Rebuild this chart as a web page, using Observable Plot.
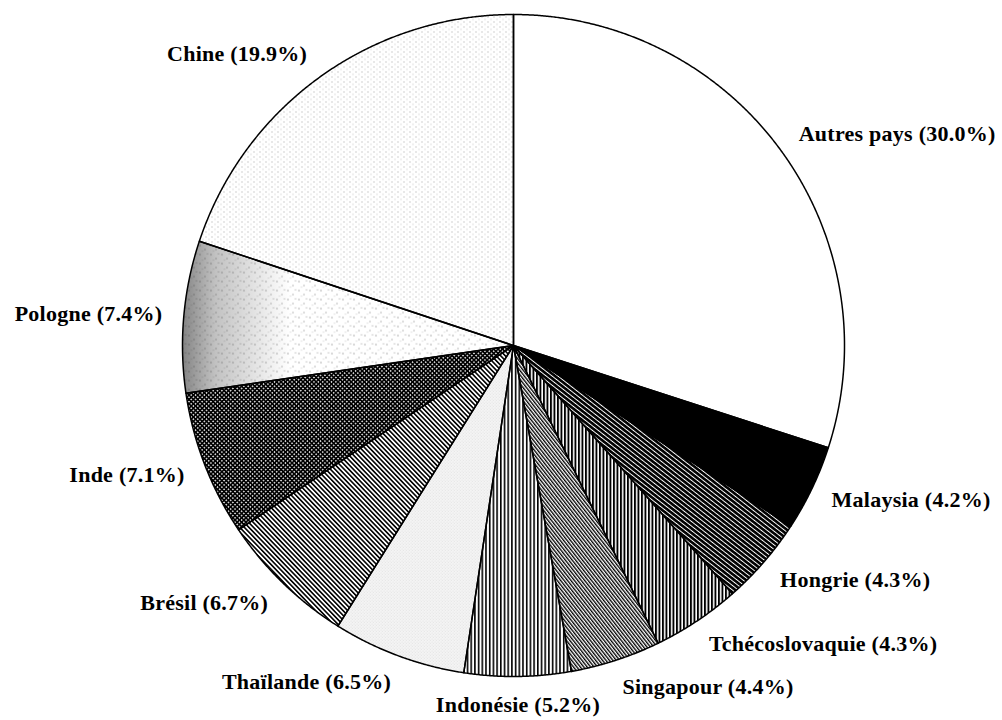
<!DOCTYPE html>
<html>
<head>
<meta charset="utf-8">
<script src="https://cdn.jsdelivr.net/npm/d3@7"></script>
<script src="https://cdn.jsdelivr.net/npm/@observablehq/plot@0.6"></script>
<style>
  html, body { margin: 0; padding: 0; background: #fff; }
  #chart { width: 1002px; height: 720px; }
  #chart svg text { letter-spacing: 0.25px; }
</style>
</head>
<body>
<div id="chart"></div>
<script>
// ---- data ----
const countries = ["Autres pays", "Malaysia", "Hongrie", "Tchécoslovaquie", "Singapour",
                   "Indonésie", "Thaïlande", "Brésil", "Inde", "Pologne", "Chine"];
const shares = [30.0, 4.2, 4.3, 4.3, 4.4, 5.2, 6.5, 6.7, 7.1, 7.4, 19.9];

// ---- styles ----
const fills = ["white", "black", "url(#p-hong)", "url(#p-tch)", "url(#p-sing)",
               "url(#p-indo)", "url(#p-thai)", "url(#p-bres)", "url(#p-inde)", "url(#p-pol)", "url(#p-chine)"];
const W = 1002, H = 720, CX = 513, CY = 345, R = 331;
const labelRadiusX = 1.065, labelRadiusY = 1.085;

// ---- geometry from the data (unit circle, clockwise from 12 o'clock) ----
const arcs = d3.pie().sort(null).value(d => d)(shares);
const slices = arcs.map((a, i) => {
  const n = Math.max(2, Math.ceil((a.endAngle - a.startAngle) / 0.004));
  const pts = [{x: 0, y: 0}];
  for (let k = 0; k <= n; k++) {
    const t = a.startAngle + (a.endAngle - a.startAngle) * k / n;
    pts.push({x: Math.sin(t), y: Math.cos(t)});
  }
  pts.push({x: 0, y: 0});
  return {name: countries[i], pts, fill: fills[i], mid: (a.startAngle + a.endAngle) / 2};
});
const labels = slices.map((s, i) => {
  const sx = Math.sin(s.mid);
  return {
    label: `${countries[i]} (${shares[i].toFixed(1)}%)`,
    lx: labelRadiusX * sx,
    ly: labelRadiusY * Math.cos(s.mid),
    anchor: sx > 0.12 ? "start" : sx < -0.12 ? "end" : "middle"
  };
});

const textOpts = {x: "lx", y: "ly", text: "label", fontFamily: "'Liberation Serif', 'Times New Roman', serif",
                  fontWeight: "bold", fontSize: 22, fill: "black", lineAnchor: "middle"};

const plot = Plot.plot({
  width: W, height: H, margin: 0,
  x: {domain: [-CX / R, (W - CX) / R], axis: null},
  y: {domain: [-(H - CY) / R, CY / R], axis: null},
  marks: [
    ...slices.map(s => Plot.line(s.pts, {x: "x", y: "y", fill: s.fill, stroke: "none", curve: "linear"})),
    Plot.line(slices.find(s => s.name === "Pologne").pts, {x: "x", y: "y", fill: "url(#g-pol)", stroke: "none"}),
    ...slices.map(s => Plot.line(s.pts, {x: "x", y: "y", fill: "none", stroke: "black", strokeWidth: 1.5, strokeLinejoin: "round"})),
    Plot.text(labels.filter(d => d.anchor === "start"), {...textOpts, textAnchor: "start"}),
    Plot.text(labels.filter(d => d.anchor === "end"), {...textOpts, textAnchor: "end"}),
    Plot.text(labels.filter(d => d.anchor === "middle"), {...textOpts, textAnchor: "middle"})
  ]
});

// ---- hatch / stipple patterns ----
const defs = document.createElementNS("http://www.w3.org/2000/svg", "defs");
defs.innerHTML = `
  <pattern id="p-hong" patternUnits="userSpaceOnUse" width="3.6" height="10" patternTransform="rotate(-52)">
    <rect width="3.6" height="10" fill="black"/><rect x="0" width="0.95" height="10" fill="white"/>
  </pattern>
  <pattern id="p-tch" patternUnits="userSpaceOnUse" width="3.5" height="10">
    <rect width="3.5" height="10" fill="white"/><rect x="0" width="1.9" height="10" fill="black"/>
  </pattern>
  <pattern id="p-sing" patternUnits="userSpaceOnUse" width="2.7" height="10" patternTransform="rotate(-38)">
    <rect width="2.7" height="10" fill="white"/><rect x="0" width="1.35" height="10" fill="black"/>
  </pattern>
  <pattern id="p-indo" patternUnits="userSpaceOnUse" width="3.7" height="10">
    <rect width="3.7" height="10" fill="white"/><rect x="0" width="1.6" height="10" fill="black"/>
  </pattern>
  <pattern id="p-thai" patternUnits="userSpaceOnUse" width="3" height="3">
    <rect width="3" height="3" fill="white"/><rect x="0.5" y="0.5" width="0.9" height="0.9" fill="#8a8a8a"/>
    <rect x="2" y="2" width="0.7" height="0.7" fill="#b0b0b0"/>
  </pattern>
  <pattern id="p-bres" patternUnits="userSpaceOnUse" width="3.3" height="10" patternTransform="rotate(-44)">
    <rect width="3.3" height="10" fill="white"/><rect x="0" width="1.6" height="10" fill="black"/>
  </pattern>
  <pattern id="p-inde" patternUnits="userSpaceOnUse" width="3.1" height="3.1" patternTransform="rotate(45)">
    <rect width="3.1" height="3.1" fill="black"/><circle cx="1.55" cy="1.55" r="0.85" fill="white"/>
  </pattern>
  <pattern id="p-pol" patternUnits="userSpaceOnUse" width="11" height="9">
    <rect width="11" height="9" fill="white"/>
    <circle cx="1.5" cy="2" r="0.6" fill="#555"/><circle cx="6.5" cy="6" r="0.55" fill="#666"/>
    <circle cx="9" cy="1.2" r="0.5" fill="#777"/><circle cx="4" cy="7.8" r="0.45" fill="#888"/>
  </pattern>
  <linearGradient id="g-pol" gradientUnits="userSpaceOnUse" x1="183" y1="0" x2="290" y2="0">
    <stop offset="0" stop-color="#222" stop-opacity="0.55"/>
    <stop offset="0.3" stop-color="#333" stop-opacity="0.3"/>
    <stop offset="1" stop-color="#444" stop-opacity="0"/>
  </linearGradient>
  <pattern id="p-chine" patternUnits="userSpaceOnUse" width="6" height="5">
    <rect width="6" height="5" fill="white"/>
    <rect x="1" y="1" width="0.9" height="0.9" fill="#8a8a8a"/><rect x="4" y="3.5" width="0.8" height="0.8" fill="#a0a0a0"/>
  </pattern>
`;
plot.insertBefore(defs, plot.firstChild);
document.getElementById("chart").appendChild(plot);
</script>
</body>
</html>
